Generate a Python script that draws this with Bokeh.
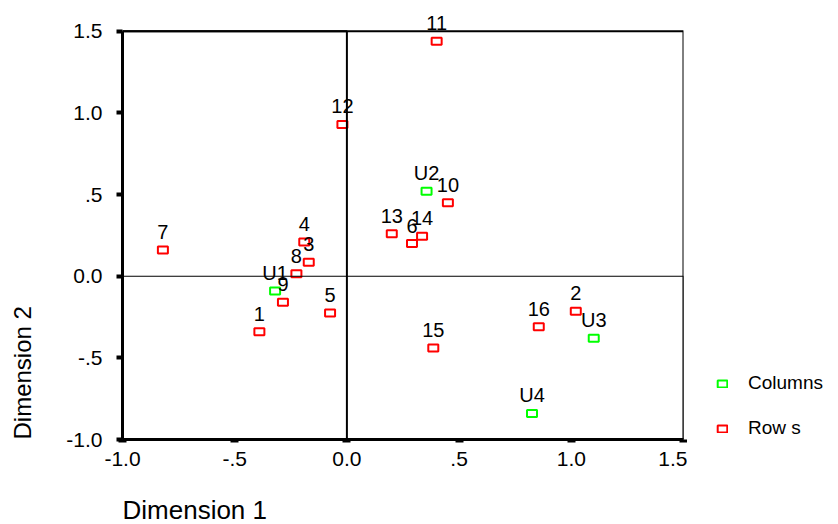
from bokeh.plotting import figure
from bokeh.layouts import row, column
from bokeh.models import (ColumnDataSource, Range1d, FixedTicker, BoxAnnotation, Title,
                          Legend, LegendItem, CDSView, IndexFilter)
from bokeh.core.properties import value
from bokeh.embed import file_html
from bokeh.resources import INLINE

# ---- data ----
row_labels = ["1", "2", "3", "4", "5", "6", "7", "8", "9", "10", "11", "12", "13", "14", "15", "16"]
row_dim1 = [-0.39, 1.02, -0.17, -0.19, -0.075, 0.29, -0.82, -0.225, -0.285, 0.45, 0.40, -0.02, 0.20, 0.335, 0.385, 0.855]
row_dim2 = [-0.34, -0.215, 0.085, 0.21, -0.225, 0.20, 0.16, 0.015, -0.16, 0.45, 1.44, 0.93, 0.26, 0.245, -0.44, -0.31]

col_labels = ["U1", "U2", "U3", "U4"]
col_dim1 = [-0.32, 0.355, 1.10, 0.825]
col_dim2 = [-0.09, 0.52, -0.38, -0.84]

tick_values = [-1.0, -0.5, 0.0, 0.5, 1.0, 1.5]
tick_labels = ["-1.0", "-.5", "0.0", ".5", "1.0", "1.5"]
legend_labels = ["Columns", "Row s"]
x_title = "Dimension 1"
y_title = "Dimension 2"

AX_MIN, AX_MAX = -1.0, 1.5
Y_TOP_PAD = 0.14          # room above the plot box so that top labels are not clipped

FONT = "Liberation Sans"
GREEN = "#00ff00"
RED = "#ff0000"

RULE_H = 2       # black rule along the top edge
TOP_H = 478      # height of the row holding the plot
BOTTOM_H = 44    # strip holding the x title


def blank(width, height, **borders):
    f = figure(width=width, height=height, output_backend="svg", toolbar_location=None,
               x_range=Range1d(5, 6), y_range=Range1d(5, 6),
               x_axis_type=None, y_axis_type=None, **borders)
    f.grid.visible = False
    f.outline_line_color = None
    f.background_fill_color = "white"
    f.border_fill_color = "white"
    return f


rows = ColumnDataSource(dict(x=row_dim1, y=row_dim2, label=row_labels))
cols = ColumnDataSource(dict(x=col_dim1, y=col_dim2, label=col_labels))

# ---- main plot ----
p = figure(width=641, height=TOP_H, output_backend="svg", toolbar_location=None,
           x_range=Range1d(AX_MIN, AX_MAX), y_range=Range1d(AX_MIN, AX_MAX + Y_TOP_PAD),
           min_border_left=76, min_border_right=4, min_border_top=6, min_border_bottom=41)

p.grid.visible = False
p.outline_line_color = None
p.background_fill_color = "white"
p.border_fill_color = "white"

overrides = {v: t for v, t in zip(tick_values, tick_labels)}
for ax in (p.xaxis[0], p.yaxis[0]):
    ax.ticker = FixedTicker(ticks=tick_values)
    ax.bounds = (AX_MIN, AX_MAX)
    ax.major_label_overrides = overrides
    ax.minor_tick_line_color = None
    ax.major_tick_in = 0
    ax.axis_line_width = 3
    ax.axis_line_color = "black"
    ax.major_tick_line_color = "black"
    ax.major_label_text_font = FONT
    ax.major_label_text_font_size = "21px"
    ax.major_label_text_color = "black"

p.xaxis[0].major_tick_out = 3
p.xaxis[0].major_tick_line_width = 8
p.xaxis[0].major_label_standoff = 9
p.yaxis[0].major_tick_out = 6
p.yaxis[0].major_tick_line_width = 4
p.yaxis[0].major_label_standoff = 14

# plot box and the two zero reference lines (as box edges at the data limits)
p.add_layout(BoxAnnotation(left=AX_MIN, right=0, bottom=AX_MIN, top=AX_MAX,
                           fill_alpha=0, line_color="black", line_alpha=1, line_width=2))
p.add_layout(BoxAnnotation(left=AX_MIN, right=AX_MAX, bottom=AX_MIN, top=0,
                           fill_alpha=0, line_color="black", line_alpha=1, line_width=1.2))
p.add_layout(BoxAnnotation(left=AX_MIN, right=AX_MAX, bottom=AX_MIN, top=AX_MAX,
                           fill_alpha=0, line_color="black", line_alpha=1, line_width=2))

p.rect(x="x", y="y", width=10, height=7, width_units="screen", height_units="screen",
       source=cols, fill_color=None, line_color=GREEN, line_width=2)
p.rect(x="x", y="y", width=10, height=7, width_units="screen", height_units="screen",
       source=rows, fill_color=None, line_color=RED, line_width=2)

for src in (rows, cols):
    p.text(x="x", y="y", text="label", source=src, text_align="center",
           text_baseline="alphabetic", y_offset=-18, text_font=value(FONT),
           text_font_size="20px", text_color="black")

# ---- y title strip (left) ----
yl = blank(46, TOP_H, min_border_left=40, min_border_right=0, min_border_top=6, min_border_bottom=41)
yl.add_layout(Title(text=y_title, align="left", vertical_align="bottom", standoff=10,
                    text_font=FONT, text_font_size="24px", text_font_style="normal",
                    text_color="black"), "left")

# ---- legend strip (right) ----
q = blank(151, TOP_H, min_border_left=0, min_border_right=0, min_border_top=6, min_border_bottom=41)
lc = q.rect(x="x", y="y", width=10, height=7, width_units="screen", height_units="screen",
            source=cols, view=CDSView(filter=IndexFilter(indices=[0])),
            fill_color=None, line_color=GREEN, line_width=2)
lr = q.rect(x="x", y="y", width=10, height=7, width_units="screen", height_units="screen",
            source=rows, view=CDSView(filter=IndexFilter(indices=[0])),
            fill_color=None, line_color=RED, line_width=2)
legend = Legend(items=[LegendItem(label=legend_labels[0], renderers=[lc]),
                       LegendItem(label=legend_labels[1], renderers=[lr])],
                location=(29, 0), orientation="vertical",
                glyph_width=12, glyph_height=9, label_standoff=20,
                label_height=20, spacing=23, padding=0, margin=0,
                border_line_color=None, background_fill_alpha=0,
                label_text_font=FONT, label_text_font_size="19px", label_text_color="black")
q.add_layout(legend, "center")

# ---- x title strip (bottom) ----
bf = blank(838, BOTTOM_H, min_border_left=122, min_border_right=155, min_border_top=0, min_border_bottom=0)
bf.add_layout(Title(text=x_title, align="left", vertical_align="bottom", standoff=0,
                    text_font=FONT, text_font_size="26px", text_font_style="normal",
                    text_color="black"), "below")

# ---- thin black rule along the top edge ----
rule = blank(838, RULE_H, min_border_left=0, min_border_right=0, min_border_top=0, min_border_bottom=0)
rule.background_fill_color = "black"
rule.border_fill_color = "black"

layout = column(rule, row(yl, p, q), bf)
open("out.html", "w").write(file_html(layout, INLINE))
